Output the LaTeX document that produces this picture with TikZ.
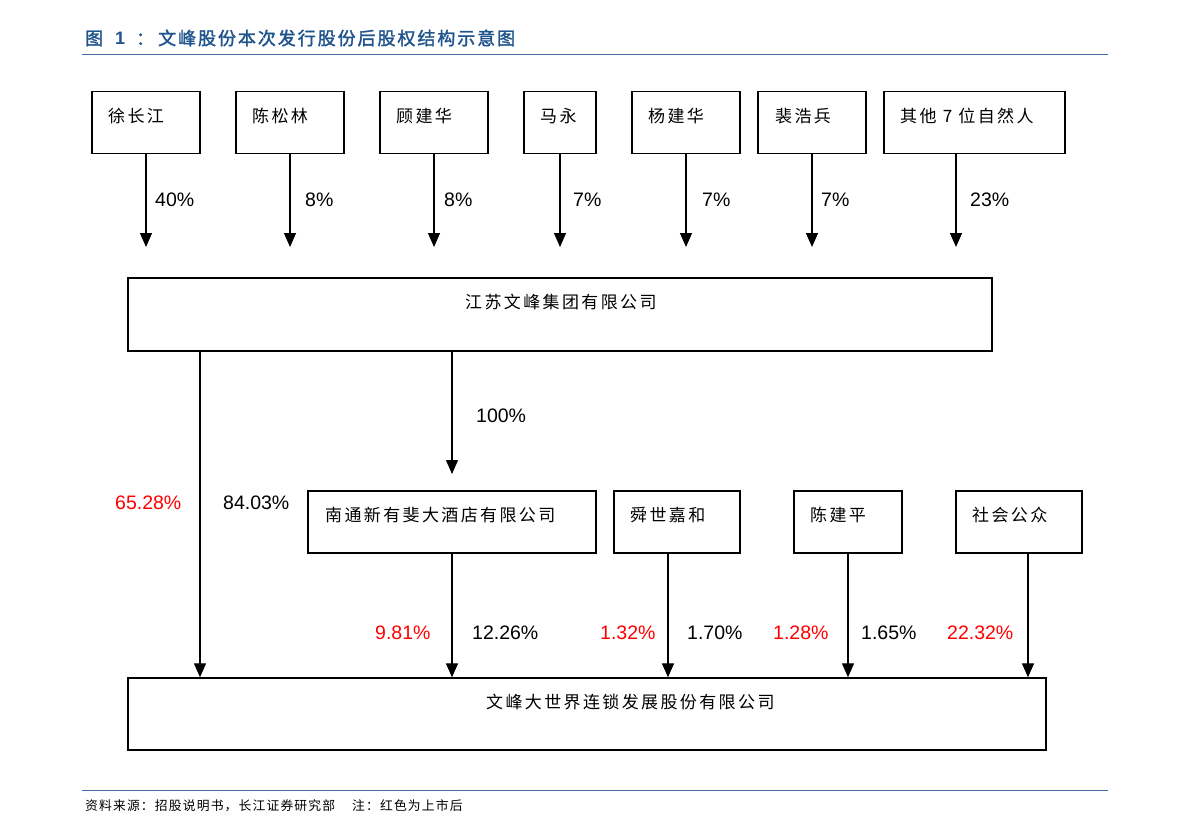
\documentclass[tikz,border=0pt]{standalone}
\usepackage{fontspec}
\setmainfont{Liberation Sans}
\newfontfamily\cjk[LetterSpace=14]{Noto Sans CJK SC}
\newfontfamily\cjkt[FakeBold=1.6]{Noto Sans CJK SC}
\newfontfamily\cjkf[LetterSpace=9]{Noto Sans CJK SC}
\usetikzlibrary{arrows.meta}
\definecolor{titleblue}{RGB}{31,84,140}
\definecolor{ruleblue}{RGB}{70,110,160}
\definecolor{pctred}{RGB}{255,0,0}
\newcommand{\tsp}{\hspace{0pt plus 1fil}}
\tikzset{
  box/.style={draw=black, line width=1.4bp, fill=white, rectangle, inner sep=0pt},
  lbl/.style={anchor=west, inner sep=0pt, font=\cjk\fontsize{17bp}{20bp}\selectfont},
  pct/.style={anchor=west, inner sep=0pt, font=\fontsize{19.5bp}{22bp}\selectfont},
  redpct/.style={pct, text=pctred},
  arr/.style={draw=black, line width=1.3bp, -{Triangle[length=14bp,width=12bp]}},
  rule/.style={draw=ruleblue, line width=1bp}
}
\begin{document}
\begin{tikzpicture}[x=1bp,y=-1bp]
\useasboundingbox (0,0) rectangle (1191,836);
% title
\node[anchor=west, inner sep=0pt, text=titleblue, font=\cjkt\fontsize{18bp}{20bp}\selectfont] (title) at (85,38) {\makebox[73bp][l]{图\hspace{12bp}{\rmfamily\bfseries 1}\hspace{11bp}：}\makebox[357bp][s]{文\tsp 峰\tsp 股\tsp 份\tsp 本\tsp 次\tsp 发\tsp 行\tsp 股\tsp 份\tsp 后\tsp 股\tsp 权\tsp 结\tsp 构\tsp 示\tsp 意\tsp 图}};
\coordinate (tl1) at (82,54);
\coordinate (tl2) at (1108,54);
\draw[rule] (tl1) -- (tl2);
% top boxes
\node[box, minimum width=108bp, minimum height=62bp] (b1) at (146,122.5) {};
\node[box, minimum width=108bp, minimum height=62bp] (b2) at (290,122.5) {};
\node[box, minimum width=108bp, minimum height=62bp] (b3) at (434,122.5) {};
\node[box, minimum width=72bp, minimum height=62bp] (b4) at (560,122.5) {};
\node[box, minimum width=108bp, minimum height=62bp] (b5) at (686,122.5) {};
\node[box, minimum width=108bp, minimum height=62bp] (b6) at (812,122.5) {};
\node[box, minimum width=181bp, minimum height=62bp] (b7) at (974.5,122.5) {};
\node[lbl] (t1) at (108,116) {徐长江};
\node[lbl] (t2) at (252,116) {陈松林};
\node[lbl] (t3) at (396,116) {顾建华};
\node[lbl] (t4) at (540,116) {马永};
\node[lbl] (t5) at (648,116) {杨建华};
\node[lbl] (t6) at (775,116) {裴浩兵};
\node[lbl] (t7) at (900,116) {其他 7 位自然人};
% top arrows
\coordinate (a1) at (146,247);
\coordinate (a2) at (290,247);
\coordinate (a3) at (434,247);
\coordinate (a4) at (560,247);
\coordinate (a5) at (686,247);
\coordinate (a6) at (812,247);
\coordinate (a7) at (956,247);
\draw[arr] (b1.south) -- (a1);
\draw[arr] (b2.south) -- (a2);
\draw[arr] (b3.south) -- (a3);
\draw[arr] (b4.south) -- (a4);
\draw[arr] (b5.south) -- (a5);
\draw[arr] (b6.south) -- (a6);
\draw[arr] (a7 |- b7.south) -- (a7);
\node[pct] (p1) at (155,200) {40\%};
\node[pct] (p2) at (305,200) {8\%};
\node[pct] (p3) at (444,200) {8\%};
\node[pct] (p4) at (573,200) {7\%};
\node[pct] (p5) at (702,200) {7\%};
\node[pct] (p6) at (821,200) {7\%};
\node[pct] (p7) at (970,200) {23\%};
% Jiangsu Wenfeng group
\node[box, minimum width=864bp, minimum height=73bp] (J) at (560,314.5) {};
\node[lbl] (tJ) at (465,302) {江苏文峰集团有限公司};
% middle row boxes
\node[box, minimum width=288bp, minimum height=62bp] (N) at (452,522) {};
\node[box, minimum width=126bp, minimum height=62bp] (S) at (677,522) {};
\node[box, minimum width=108bp, minimum height=62bp] (C) at (848,522) {};
\node[box, minimum width=126bp, minimum height=62bp] (P) at (1019,522) {};
\node[lbl] (tN) at (325,515) {南通新有斐大酒店有限公司};
\node[lbl] (tS) at (630,515) {舜世嘉和};
\node[lbl] (tC) at (810,515) {陈建平};
\node[lbl] (tP) at (972,515) {社会公众};
% main company
\node[box, minimum width=918bp, minimum height=72bp] (M) at (587,714) {};
\node[lbl] (tM) at (486,702) {文峰大世界连锁发展股份有限公司};
% connectors
\coordinate (cj) at (200,400);
\coordinate (cn) at (452,474);
\coordinate (cs) at (668,600);
\coordinate (cp) at (1028,600);
\draw[arr] (J.south -| cj) -- (M.north -| cj);
\draw[arr] (J.south -| cn) -- (cn);
\draw[arr] (N.south) -- (M.north -| N.south);
\draw[arr] (S.south -| cs) -- (M.north -| cs);
\draw[arr] (C.south) -- (M.north -| C.south);
\draw[arr] (P.south -| cp) -- (M.north -| cp);
% percentages middle
\node[pct] (p100) at (476,416) {100\%};
\node[redpct] (p65) at (115,503) {65.28\%};
\node[pct] (p84) at (223,503) {84.03\%};
\node[redpct] (p981) at (375,633) {9.81\%};
\node[pct] (p1226) at (472,633) {12.26\%};
\node[redpct] (p132) at (600,633) {1.32\%};
\node[pct] (p170) at (687,633) {1.70\%};
\node[redpct] (p128) at (773,633) {1.28\%};
\node[pct] (p165) at (861,633) {1.65\%};
\node[redpct] (p2232) at (947,633) {22.32\%};
% footer
\coordinate (fl1) at (82,790);
\coordinate (fl2) at (1108,790);
\draw[rule] (fl1) -- (fl2);
\node[anchor=west, inner sep=0pt, font=\cjkf\fontsize{12.8bp}{16bp}\selectfont] (foot) at (85,806) {资料来源：招股说明书，长江证券研究部\hspace{17bp}注：红色为上市后};
\end{tikzpicture}
\end{document}
